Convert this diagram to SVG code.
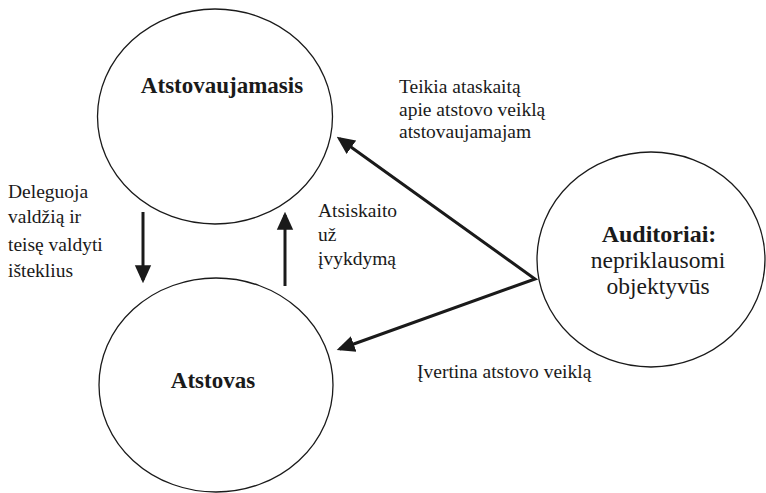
<svg xmlns="http://www.w3.org/2000/svg" width="766" height="493" viewBox="0 0 766 493">
  <style>
    .node { fill: #ffffff; stroke: #1a1a1a; stroke-width: 1.3; }
    .title { font-family: "Liberation Serif", "Times New Roman", serif; font-weight: bold; font-size: 23px; fill: #1a1a1a; text-anchor: middle; }
    .sub { font-family: "Liberation Serif", "Times New Roman", serif; font-size: 23.5px; fill: #1a1a1a; text-anchor: middle; }
    .label { font-family: "Liberation Serif", "Times New Roman", serif; font-size: 19.5px; fill: #1a1a1a; }
    .edge { fill: none; stroke: #1a1a1a; stroke-width: 3; stroke-linejoin: miter; }
  </style>
  <defs>
    <marker id="arrow" markerUnits="strokeWidth" markerWidth="6" markerHeight="6" viewBox="0 0 5.5 5" refX="4.5" refY="2.5" orient="auto-start-reverse">
      <path d="M0,0 L5.5,2.5 L0,5 z" fill="#1a1a1a"/>
    </marker>
  </defs>

  <rect width="766" height="493" fill="#ffffff"/>

  <!-- Nodes -->
  <g id="atstovaujamasis">
    <ellipse class="node" cx="215" cy="116.5" rx="117.5" ry="107.5"/>
    <text class="title" x="222" y="93">Atstovaujamasis</text>
  </g>

  <g id="atstovas">
    <ellipse class="node" cx="216" cy="385" rx="117" ry="107"/>
    <text class="title" x="213" y="388">Atstovas</text>
  </g>

  <g id="auditoriai">
    <ellipse class="node" cx="651" cy="259.5" rx="114" ry="107.5"/>
    <text class="title" x="659" y="242" style="font-size:24px">Auditoriai:</text>
    <text class="sub" x="658" y="268">nepriklausomi</text>
    <text class="sub" x="658" y="294">objektyvūs</text>
  </g>

  <!-- Connectors -->
  <g id="connectors">
    <line class="edge" x1="143" y1="212" x2="143" y2="280" marker-end="url(#arrow)"/>
    <line class="edge" x1="285" y1="286" x2="285" y2="215" marker-end="url(#arrow)"/>
    <polyline class="edge" points="339.4,138.7 535,279 339.8,349" marker-start="url(#arrow)" marker-end="url(#arrow)"/>
  </g>

  <!-- Connector labels -->
  <g id="labels">
    <text class="label" x="8" y="198">Deleguoja</text>
    <text class="label" x="8" y="223">valdžią ir</text>
    <text class="label" x="8" y="251">teisę  valdyti</text>
    <text class="label" x="8" y="277">išteklius</text>

    <text class="label" x="318" y="217">Atsiskaito</text>
    <text class="label" x="318" y="241">už</text>
    <text class="label" x="318" y="265">įvykdymą</text>

    <text class="label" x="399" y="93">Teikia ataskaitą</text>
    <text class="label" x="399" y="116">apie atstovo veiklą</text>
    <text class="label" x="399" y="138">atstovaujamajam</text>

    <text class="label" x="417" y="378">Įvertina atstovo veiklą</text>
  </g>
</svg>
